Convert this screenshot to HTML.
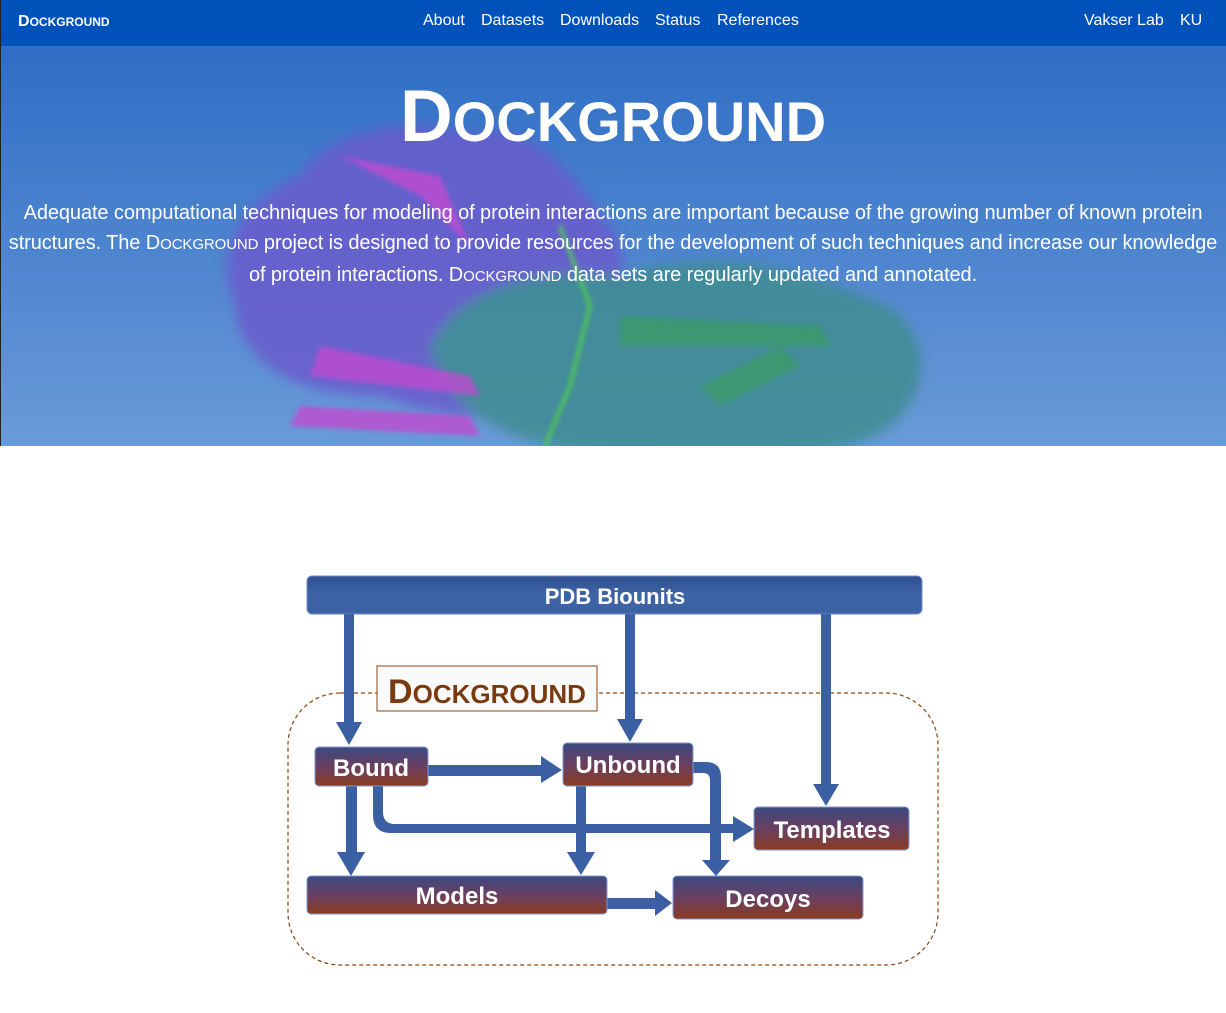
<!DOCTYPE html>
<html><head><meta charset="utf-8">
<style>
*{margin:0;padding:0;box-sizing:border-box}
body{width:1226px;height:1013px;background:#fff;font-family:"Liberation Sans",sans-serif;position:relative;overflow:hidden}
.nav{position:absolute;left:0;top:0;width:1226px;height:46px;background:#0052bb;color:#fff}
.nav .l{position:absolute;top:12px;font-size:16px}
.brand{position:absolute;left:18px;top:13px;font-weight:bold;white-space:nowrap}
.hero{position:absolute;left:0;top:46px;width:1226px;height:400px;background:linear-gradient(#2f6ec5,#6a9ad8);overflow:hidden}
.hero svg{position:absolute;left:0;top:0}
.title{position:absolute;top:34px;left:0;width:1226px;text-align:center;color:#fff;font-weight:bold;line-height:1}
.para{position:absolute;top:152px;left:0;width:1226px;text-align:center;color:#fff;font-size:20px;line-height:30px;letter-spacing:-0.1px}
.sc{font-size:15px}
.edge{position:absolute;left:0;top:0;width:1px;height:446px;background:#222}
</style></head><body>
<div class="hero">
<svg width="1226" height="400">
<defs><filter id="b"><feGaussianBlur stdDeviation="6"/></filter><filter id="b2"><feGaussianBlur stdDeviation="2"/></filter></defs>
<g filter="url(#b)" opacity="0.85">
<path d="M235 260 C210 200 250 150 300 130 C330 80 420 70 470 90 C520 70 570 120 600 170 C640 200 620 280 600 320 C560 380 460 380 380 350 C300 350 240 320 235 260Z" fill="#6a5ccc"/>
<path d="M430 300 C460 240 540 220 620 230 C700 200 800 220 860 250 C920 260 940 330 900 370 C870 410 760 420 640 410 C540 410 450 380 430 300Z" fill="#3f8c92"/>
</g>
<g filter="url(#b2)" opacity="0.8">
<path d="M320 300 L470 330 L480 350 L310 330Z" fill="#c04cd0"/>
<path d="M300 360 L470 370 L480 390 L290 380Z" fill="#c04cd0"/>
<path d="M340 110 L440 130 L470 200 L420 150Z" fill="#c04cd0"/>
<path d="M620 270 L820 280 L830 300 L620 300Z" fill="#3a9a6a"/>
<path d="M700 340 L780 300 L800 320 L720 360Z" fill="#3a9a6a"/>
<path d="M560 180 L590 260 L570 340 L545 400" stroke="#4fd24a" stroke-width="4" fill="none"/>
</g>
</svg>
<div class="title"><span style="font-size:73px">D</span><span style="font-size:56px">OCKGROUND</span></div>
<div class="para">Adequate computational techniques for modeling of protein interactions are important because of the growing number of known protein<br>structures. The D<span class="sc">OCKGROUND</span> project is designed to provide resources for the development of such techniques and increase our knowledge<br>of protein interactions. D<span class="sc">OCKGROUND</span> data sets are regularly updated and annotated.</div>
</div>
<div class="nav">
<div class="brand"><span style="font-size:16px">D</span><span style="font-size:12px">OCKGROUND</span></div>
<span class="l" style="left:423px">About</span><span class="l" style="left:481px">Datasets</span><span class="l" style="left:560px">Downloads</span><span class="l" style="left:655px">Status</span><span class="l" style="left:717px">References</span>
<span class="l" style="left:1084px">Vakser Lab</span><span class="l" style="left:1180px">KU</span>
</div>
<div class="edge"></div>
<svg style="position:absolute;left:0;top:0" width="1226" height="1013">
<defs>
<linearGradient id="bl" x1="0" y1="0" x2="0" y2="1"><stop offset="0" stop-color="#2e4f8c"/><stop offset="0.5" stop-color="#3e64a6"/><stop offset="1" stop-color="#3d62a3"/></linearGradient>
<linearGradient id="br" x1="0" y1="0" x2="0" y2="1"><stop offset="0" stop-color="#3b4a80"/><stop offset="0.5" stop-color="#6a3f62"/><stop offset="1" stop-color="#893c20"/></linearGradient>
</defs>
<rect x="288" y="693" width="650" height="272" rx="52" fill="none" stroke="#8b4513" stroke-width="1.2" stroke-dasharray="4,3"/>
<rect x="307" y="576" width="615" height="38" rx="5" fill="url(#bl)" stroke="#6c8cd0"/>
<text x="615" y="604" text-anchor="middle" fill="#fff" font-size="22" font-weight="bold" font-family="Liberation Sans">PDB Biounits</text>
<rect x="377" y="666" width="220" height="45" fill="#fafafa" stroke="#8b4513"/>
<text x="487" y="703" text-anchor="middle" fill="#7a3a10" font-weight="bold" font-family="Liberation Sans"><tspan font-size="34">D</tspan><tspan font-size="26">OCKGROUND</tspan></text>
<g fill="#3a5fa2" stroke="none">
<rect x="344" y="614" width="10" height="110"/><polygon points="336,722 362,722 349,745"/>
<rect x="625" y="614" width="10" height="106"/><polygon points="617,719 643,719 630,742"/>
<rect x="821" y="614" width="10" height="172"/><polygon points="813,784 839,784 826,806"/>
<rect x="428" y="765" width="114" height="11"/><polygon points="541,756 541,783 562,770"/>
<rect x="346" y="786" width="11" height="68"/><polygon points="337,852 365,852 351,876"/>
<rect x="576" y="786" width="10" height="68"/><polygon points="567,852 595,852 581,875"/>
<path d="M373 786 V815 Q373 833 391 833 H735 V824 H395 Q383 824 383 812 V786Z"/><polygon points="733,816 733,842 754,829"/>
<path d="M693 762 H706 Q721 762 721 777 V862 H710 V780 Q710 773 703 773 H693Z"/><polygon points="702,860 730,860 716,876"/>
<rect x="607" y="898" width="50" height="11"/><polygon points="655,890 655,916 672,903"/>
</g>
<g stroke="#7f9ad6" stroke-width="1">
<rect x="315" y="747" width="113" height="39" rx="4" fill="url(#br)"/>
<rect x="563" y="743" width="130" height="43" rx="4" fill="url(#br)"/>
<rect x="754" y="807" width="155" height="43" rx="4" fill="url(#br)"/>
<rect x="307" y="876" width="300" height="38" rx="4" fill="url(#br)"/>
<rect x="673" y="876" width="190" height="43" rx="4" fill="url(#br)"/>
</g>
<g fill="#fff" font-family="Liberation Sans" font-weight="bold" font-size="24" text-anchor="middle">
<text x="371" y="776">Bound</text>
<text x="628" y="773">Unbound</text>
<text x="832" y="838">Templates</text>
<text x="457" y="904">Models</text>
<text x="768" y="907">Decoys</text>
</g>
</svg>
</body></html>
